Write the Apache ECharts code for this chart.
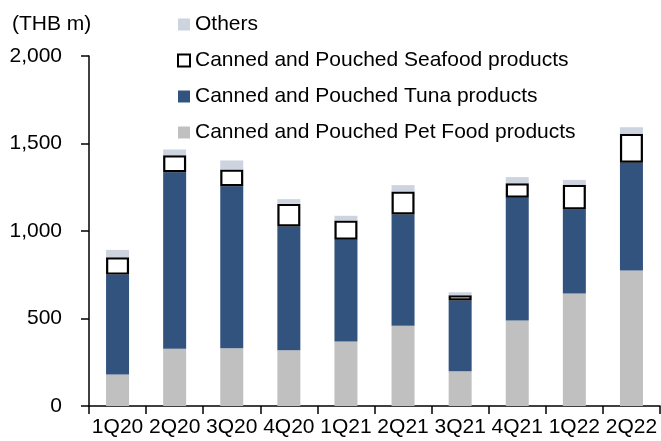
<!DOCTYPE html>
<html><head><meta charset="utf-8">
<script src="https://cdn.jsdelivr.net/npm/echarts@6/dist/echarts.min.js"></script>
<style>html,body{margin:0;padding:0;background:#fff}#c{width:661px;height:441px}</style>
</head><body><div id="c"></div>
<script>
var categories = ['1Q20','2Q20','3Q20','4Q20','1Q21','2Q21','3Q21','4Q21','1Q22','2Q22'];
var petFood = [180, 327, 330, 319, 369, 458, 199, 489, 643, 774];
var tuna    = [571, 1009, 926, 707, 581, 636, 404, 701, 480, 616];
var seafood = [99, 97, 95, 129, 110, 132, 30, 83, 141, 165];
var others  = [42, 33, 52, 27, 27, 36, 17, 35, 28, 38];
var yTicks = [0, 500, 1000, 1500, 2000];

var FONT = 'Liberation Sans, Arial, sans-serif';
var names = {
  others: 'Others',
  seafood: 'Canned and Pouched Seafood products',
  tuna: 'Canned and Pouched Tuna products',
  pet: 'Canned and Pouched Pet Food products'
};
var chart = echarts.init(document.getElementById('c'), null, {renderer: 'canvas'});
var barW = 23;
chart.setOption({
  animation: false,
  title: {text: '(THB m)', left: 7, top: 9, textStyle: {fontFamily: FONT, fontSize: 21, fontWeight: 'normal', color: '#000'}},
  legend: {
    orient: 'vertical', left: 172, top: 8, itemGap: 13, itemWidth: 12, itemHeight: 12,
    textStyle: {fontFamily: FONT, fontSize: 21, color: '#000', lineHeight: 23},
    data: [
      {name: names.others, icon: 'rect'},
      {name: names.seafood, icon: 'rect', itemStyle: {color: '#fff', borderColor: '#000', borderWidth: 2}},
      {name: names.tuna, icon: 'rect'},
      {name: names.pet, icon: 'rect'}
    ]
  },
  grid: {left: 89, right: 1, top: 56, bottom: 35, containLabel: false},
  xAxis: {
    type: 'category', data: categories,
    axisLine: {lineStyle: {color: '#000', width: 1.5}},
    axisTick: {show: true, length: 8, lineStyle: {color: '#000', width: 1.5}},
    axisLabel: {fontFamily: FONT, fontSize: 21, color: '#000', margin: 11, interval: 0}
  },
  yAxis: {
    type: 'value', min: yTicks[0], max: yTicks[yTicks.length - 1], interval: yTicks[1] - yTicks[0],
    splitLine: {show: false},
    axisLine: {show: true, lineStyle: {color: '#000', width: 1.5}},
    axisTick: {show: true, length: 8, lineStyle: {color: '#000', width: 1.5}},
    axisLabel: {fontFamily: FONT, fontSize: 21, color: '#000', margin: 27,
      formatter: function (v) { return v.toLocaleString('en-US'); }}
  },
  series: [
    {name: names.pet, type: 'bar', stack: 's', data: petFood, barWidth: barW, itemStyle: {color: '#c0c0c0'}},
    {name: names.tuna, type: 'bar', stack: 's', data: tuna, barWidth: barW, itemStyle: {color: '#33537f'}},
    {name: names.seafood, type: 'bar', stack: 's', data: seafood, barWidth: barW, itemStyle: {color: '#fff', borderColor: '#000', borderWidth: 2.2}},
    {name: names.others, type: 'bar', stack: 's', data: others, barWidth: barW, itemStyle: {color: '#cdd4e0'}}
  ]
});
</script></body></html>
